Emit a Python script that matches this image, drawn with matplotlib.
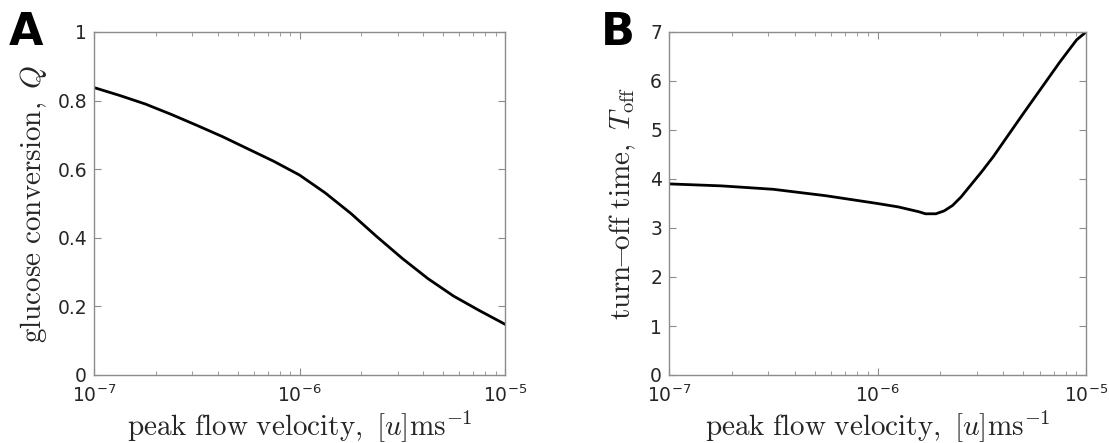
import numpy as np
import matplotlib
matplotlib.use("Agg")
import matplotlib.pyplot as plt
import matplotlib.ticker as mticker

plt.rcParams["mathtext.fontset"] = "cm"
plt.rcParams["font.family"] = "DejaVu Sans"

# panel A: glucose conversion vs peak flow velocity (log10 of velocity)
logu_a = [-7.0, -6.875, -6.75, -6.625, -6.5, -6.375, -6.25, -6.125, -6.0,
          -5.875, -5.75, -5.625, -5.5, -5.375, -5.25, -5.125, -5.0]
q_a = [0.838, 0.815, 0.790, 0.760, 0.728, 0.695, 0.659, 0.623, 0.583,
       0.531, 0.471, 0.404, 0.340, 0.281, 0.230, 0.188, 0.148]

# panel B: turn-off time vs peak flow velocity
logu_b = [-7.0, -6.75, -6.5, -6.25, -6.0, -5.9, -5.8, -5.77, -5.72, -5.68,
          -5.64, -5.6, -5.5, -5.444, -5.4, -5.3, -5.2, -5.125, -5.045, -5.0]
t_b = [3.90, 3.86, 3.79, 3.66, 3.50, 3.43, 3.33, 3.29, 3.29, 3.35,
       3.46, 3.63, 4.15, 4.46, 4.73, 5.34, 5.94, 6.39, 6.84, 7.0]

xlabel = r"$\mathrm{peak\ flow\ velocity,\ }[u]\mathrm{ms}^{-1}$"
ylabel_a = r"$\mathrm{glucose\ conversion,\ }Q$"
ylabel_b = r"$\mathrm{turn\!\!-\!\!off\ time,\ }T_{\mathrm{off}}$"

axis_gray = "#8c8c8c"
text_col = "#262626"

fig = plt.figure(figsize=(11.09, 4.43), dpi=100)
W, H = 1109, 443
ax_a = fig.add_axes([94 / W, 1 - 375 / H, (505 - 94) / W, (375 - 32) / H])
ax_b = fig.add_axes([669 / W, 1 - 375 / H, (1086 - 669) / W, (375 - 32) / H])


def style(ax):
    ax.set_xscale("log")
    ax.set_xlim(1e-7, 1e-5)
    ax.set_xticks([1e-7, 1e-6, 1e-5])
    ax.set_xticklabels([r"$\mathdefault{10^{-7}}$", r"$\mathdefault{10^{-6}}$",
                        r"$\mathdefault{10^{-5}}$"])
    ax.xaxis.set_minor_locator(mticker.LogLocator(base=10, subs=np.arange(2, 10)))
    ax.xaxis.set_minor_formatter(mticker.NullFormatter())
    for s in ax.spines.values():
        s.set_color(axis_gray)
        s.set_linewidth(1.0)
    ax.tick_params(which="both", direction="in", top=True, right=True,
                   color=axis_gray, labelcolor=text_col, labelsize=13.5)
    ax.tick_params(which="major", length=5, width=0.8, pad=5)
    ax.tick_params(which="minor", length=3, width=0.6)
    ax.tick_params(axis="x", pad=7)
    ax.set_xlabel(xlabel, fontsize=21, color=text_col, va="baseline")
    ax.xaxis.set_label_coords(0.5, -(435 - 375) / 343)


ax_a.plot(10 ** np.array(logu_a), q_a, color="black", lw=2.0)
style(ax_a)
ax_a.set_ylim(0, 1)
ax_a.set_yticks([0, 0.2, 0.4, 0.6, 0.8, 1])
ax_a.set_yticklabels(["0", "0.2", "0.4", "0.6", "0.8", "1"])
ax_a.set_ylabel(ylabel_a, fontsize=21, color=text_col, labelpad=6)

ax_b.plot(10 ** np.array(logu_b), t_b, color="black", lw=2.0)
style(ax_b)
ax_b.set_ylim(0, 7)
ax_b.set_yticks(range(8))
ax_b.set_ylabel(ylabel_b, fontsize=21, color=text_col, labelpad=9)

fig.text(9 / W, 1 - 45 / H, "A", fontsize=32, fontweight="bold", color="black")
fig.text(601 / W, 1 - 45 / H, "B", fontsize=32, fontweight="bold", color="black")

fig.savefig("out.png", dpi=100)
